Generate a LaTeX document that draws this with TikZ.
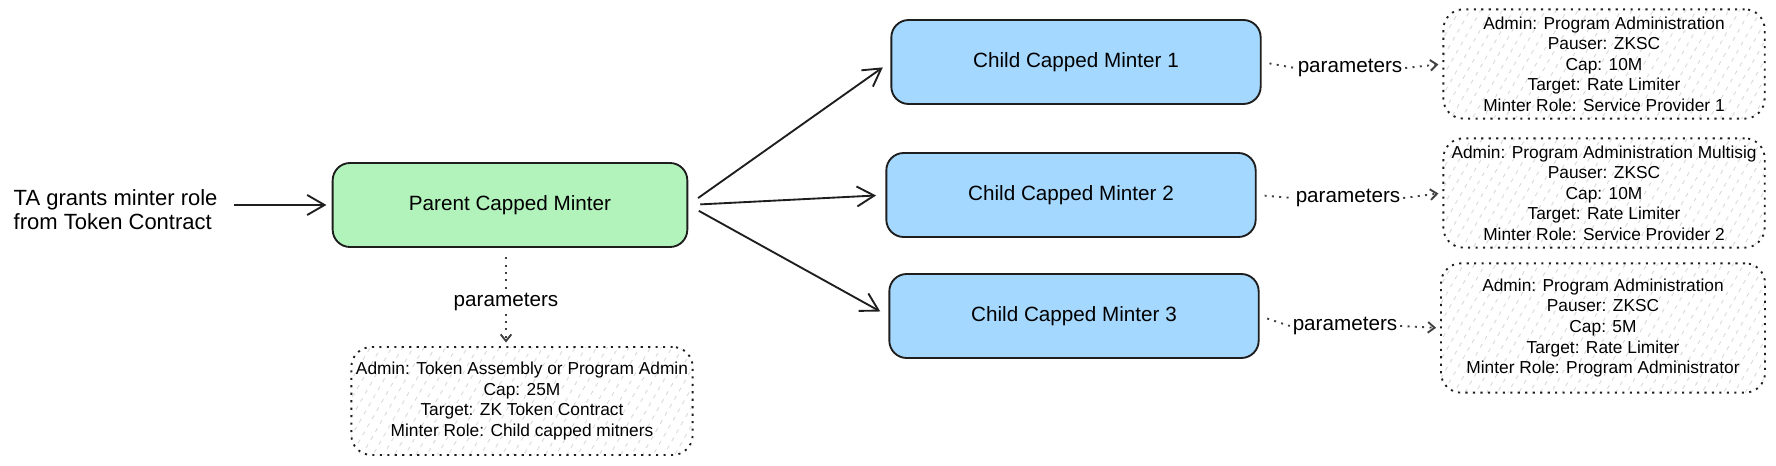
\documentclass[tikz,border=0pt]{standalone}
\usepackage{fontspec}
\setmainfont{Liberation Sans}
\usetikzlibrary{arrows.meta}
\usetikzlibrary{patterns.meta}

\definecolor{inkline}{HTML}{1E1E1E}
\definecolor{mintfill}{HTML}{B2F2BB}
\definecolor{skyfill}{HTML}{A5D8FF}

\begin{document}
\begin{tikzpicture}[
        x=0.75pt,y=-0.75pt,
        minter/.style={draw=inkline,line width=1.4pt,rounded corners=13pt,minimum width=277pt,minimum height=63pt,font=\fontsize{15.5}{18}\selectfont},
        params/.style={draw=inkline,line width=1.4pt,dash pattern=on 1.6pt off 4pt,rounded corners=15pt,pattern={Lines[angle=60,distance=7pt,line width=0.7pt]},pattern color=gray!30,align=center,inner sep=2pt,font=\fontsize{13}{15.4}\selectfont},
        paramlabel/.style={inner sep=2pt,font=\fontsize{15.5}{18}\selectfont},
        flow/.style={draw=inkline,line width=1.4pt,-{Straight Barb[length=13pt,width=15pt]}},
        dotlink/.style={draw=inkline!85,line width=1.4pt,dash pattern=on 1.5pt off 4pt}
      ]
      \useasboundingbox (0,0) rectangle (1776,466);

      \node[anchor=west,align=left,font=\fontsize{16.5}{18}\selectfont] (grant) at (9,210) {TA grants minter role\\from Token Contract};
      \node[minter,fill=mintfill,minimum width=266pt] (parent) at (510,205) {Parent Capped Minter};
      \node[minter,fill=skyfill] (child1) at (1076,62) {Child Capped Minter 1};
      \node[minter,fill=skyfill] (child2) at (1071,195) {Child Capped Minter 2};
      \node[minter,fill=skyfill] (child3) at (1074,316) {Child Capped Minter 3};

      \node[params,minimum width=256pt,minimum height=81pt] (pp) at (522,401) {Admin: Token Assembly or Program Admin\\Cap: 25M\\Target: ZK Token Contract\\Minter Role: Child capped mitners};
      \node[params,minimum width=241pt,minimum height=82pt] (pc1) at (1604,64) {Admin: Program Administration\\Pauser: ZKSC\\Cap: 10M\\Target: Rate Limiter\\Minter Role: Service Provider 1};
      \node[params,minimum width=241pt,minimum height=82pt] (pc2) at (1604,193) {Admin: Program Administration Multisig\\Pauser: ZKSC\\Cap: 10M\\Target: Rate Limiter\\Minter Role: Service Provider 2};
      \node[params,minimum width=243pt,minimum height=97pt] (pc3) at (1603,328) {Admin: Program Administration\\Pauser: ZKSC\\Cap: 5M\\Target: Rate Limiter\\Minter Role: Program Administrator};

      \node[paramlabel] (lp) at (506,302) {parameters};
      \node[paramlabel] (l1) at (1350,68) {parameters};
      \node[paramlabel] (l2) at (1348,198) {parameters};
      \node[paramlabel] (l3) at (1345,326) {parameters};

      \draw[flow,shorten <=9pt,shorten >=4pt] (grant.east |- parent.west) -- (parent.west);
      \foreach \c in {child1,child2,child3}
        \draw[flow,shorten <=9pt,shorten >=7pt] (parent.east) -- (\c.west);

      \draw[dotlink,shorten <=7pt] (lp.north |- parent.south) -- (lp.north);
      \draw[dotlink,-{Straight Barb[length=5pt,width=8pt]},shorten >=3pt] (lp.south) -- (lp.south |- pp.north);
      \foreach \c/\l/\p in {child1/l1/pc1,child2/l2/pc2,child3/l3/pc3} {
        \draw[dotlink,shorten <=6pt] (\c.east) -- (\l.west);
        \draw[dotlink,-{Straight Barb[length=5pt,width=8pt]},shorten >=3pt] (\l.east) -- (\p.west);
      }
    \end{tikzpicture}
\end{document}
